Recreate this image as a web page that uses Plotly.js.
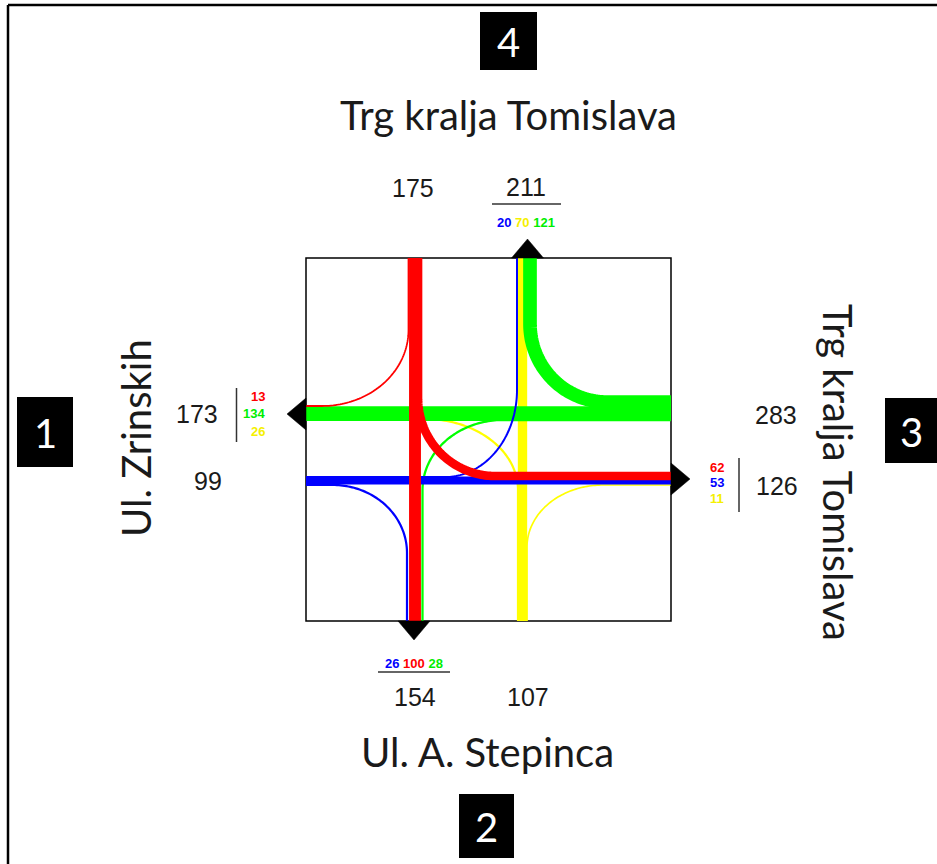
<!DOCTYPE html>
<html>
<head>
<meta charset="utf-8">
<script src="https://cdn.plot.ly/plotly-3.0.1.min.js"></script>
<style>html,body{margin:0;padding:0;background:#fff;}#chart{width:937px;height:864px;}</style>
</head>
<body>
<div id="chart"></div>
<script>
// ---------------- DATA ----------------
const approachIds = [1, 2, 3, 4];
const streetNames = ['Ul. Zrinskih', 'Ul. A. Stepinca', 'Trg kralja Tomislava', 'Trg kralja Tomislava'];
// movements: origin approach -> destination approach, vehicles
const flowFrom   = [1, 1, 1, 2, 2, 2, 3, 3, 3, 4, 4, 4];
const flowTo     = [3, 4, 2, 4, 1, 3, 1, 4, 2, 2, 1, 3];
const flowVolume = [53, 20, 26, 70, 26, 11, 134, 121, 28, 100, 13, 62];

// ---------------- STYLE / LAYOUT ----------------
const originColor = {1: '#0000FF', 2: '#FFFF00', 3: '#00FF00', 4: '#FF0000'};
const drawOrder = [2, 3, 1, 4];
const L = 306, R = 671, T = 258, B = 621;

// lane geometry of each movement (positions only)
const pathSpec = {
  '1-3': [['P', L, 480.5], ['P', R, 480.5]],
  '1-4': [['P', L, 477], ['A', 445, 390, 72, 87, 90, 0], ['P', 517, T]],
  '1-2': [['P', L, 485], ['A', 333, 553, 74, 68, -90, 0], ['P', 407, B]],
  '2-4': [['P', 522.5, B], ['P', 522.5, T]],
  '2-1': [['P', 518, B], ['A', 425, 490, 93, 71, 0, -90], ['P', L, 419]],
  '2-3': [['P', 527, B], ['A', 603, 547, 76, 62, 180, 270], ['P', R, 485]],
  '3-1': [['P', R, 413.7], ['P', L, 413.7]],
  '3-4': [['P', R, 402], ['A', 607, 324, 77, 78, 90, 180], ['P', 530, T]],
  '3-2': [['P', R, 420], ['A', 503, 490, 80.5, 70, 270, 180], ['P', 422.5, B]],
  '4-2': [['P', 415, T], ['P', 415, B]],
  '4-1': [['P', 408.5, T], ['A', 322, 330, 86.5, 76, 0, 90], ['P', L, 406]],
  '4-3': [['P', 418, T], ['A', 495, 398, 77, 78, 180, 90], ['P', R, 476]]
};
// exit arrow (tip direction) and lane order of the incoming movements at each exit
const exitGeom = {
  1: {x: L, y: 414, dir: 'left',  order: [4, 3, 2]},
  2: {x: 414, y: B, dir: 'down',  order: [1, 4, 3]},
  3: {x: R, y: 479, dir: 'right', order: [4, 1, 2]},
  4: {x: 527.5, y: T, dir: 'up',  order: [1, 2, 3]}
};

function lineWidth(v) { return v < 40 ? 1.3 + v * 0.035 : 3.4 + v * 0.085; }

function buildPath(spec) {
  const xs = [], ys = [];
  spec.forEach(s => {
    if (s[0] === 'P') { xs.push(s[1]); ys.push(s[2]); }
    else {
      const [, cx, cy, rx, ry, a0, a1] = s;
      const n = 60;
      for (let i = 0; i <= n; i++) {
        const a = (a0 + (a1 - a0) * i / n) * Math.PI / 180;
        xs.push(cx + rx * Math.cos(a));
        ys.push(cy + ry * Math.sin(a));
      }
    }
  });
  return {xs, ys};
}

const traces = [];
drawOrder.forEach(o => {
  const idx = flowFrom.map((f, i) => i).filter(i => flowFrom[i] === o)
    .sort((a, b) => flowVolume[a] - flowVolume[b]);
  idx.forEach(i => {
    const p = buildPath(pathSpec[flowFrom[i] + '-' + flowTo[i]]);
    traces.push({
      type: 'scatter', mode: 'lines', x: p.xs, y: p.ys,
      line: {color: originColor[o], width: lineWidth(flowVolume[i]), simplify: false},
      hoverinfo: 'skip', showlegend: false
    });
  });
});

// exit arrows
const AH = 16, AL = 19;
approachIds.forEach(a => {
  const e = exitGeom[a];
  let xs, ys;
  if (e.dir === 'left')  { xs = [e.x, e.x, e.x - AL, e.x]; ys = [e.y - AH, e.y + AH, e.y, e.y - AH]; }
  if (e.dir === 'right') { xs = [e.x, e.x, e.x + AL, e.x]; ys = [e.y - AH, e.y + AH, e.y, e.y - AH]; }
  if (e.dir === 'up')    { xs = [e.x - AH, e.x + AH, e.x, e.x - AH]; ys = [e.y, e.y, e.y - AL, e.y]; }
  if (e.dir === 'down')  { xs = [e.x - AH, e.x + AH, e.x, e.x - AH]; ys = [e.y, e.y, e.y + AL, e.y]; }
  traces.push({type: 'scatter', mode: 'lines', x: xs, y: ys, fill: 'toself',
    fillcolor: '#000', line: {color: '#000', width: 0.5}, hoverinfo: 'skip', showlegend: false});
});

// totals from flows
const inbound = {}, outbound = {};
approachIds.forEach(a => { inbound[a] = 0; outbound[a] = 0; });
flowVolume.forEach((v, i) => { inbound[flowFrom[i]] += v; outbound[flowTo[i]] += v; });
function vol(from, to) {
  for (let i = 0; i < flowVolume.length; i++) if (flowFrom[i] === from && flowTo[i] === to) return flowVolume[i];
  return 0;
}
const smallColor = {1: '#0000FF', 2: '#F5F000', 3: '#00EE00', 4: '#FF0000'};

const NUMF = {family: 'Liberation Sans, Arial, sans-serif', size: 25, color: '#1a1a1a'};
const SMF = {family: 'Liberation Sans, Arial, sans-serif', size: 13, color: '#000'};
const STF = {family: 'Lato, sans-serif', size: 40, color: '#1a1a1a'};
const BOXF = {family: 'Lato, sans-serif', size: 40, color: '#fff'};

const ann = [];
function txt(x, y, text, font, extra) {
  ann.push(Object.assign({x, y, xref: 'x', yref: 'y', text, font, showarrow: false,
    xanchor: 'center', yanchor: 'middle'}, extra || {}));
}
function colored(o, d) { return `<span style="color:${smallColor[o]}"><b>${vol(o, d)}</b></span>`; }
// approach 4 (north)
txt(413, 188, String(inbound[4]), NUMF);
txt(526, 187, String(outbound[4]), NUMF);
txt(526, 222, exitGeom[4].order.map(o => colored(o, 4)).join(' '), SMF);
// approach 1 (west)
txt(197, 414, String(outbound[1]), NUMF);
txt(208, 481, String(inbound[1]), NUMF);
exitGeom[1].order.forEach((o, k) => txt(267, 396 + k * 17.5, colored(o, 1), SMF, {xanchor: 'right'}));
// approach 3 (east)
txt(776, 415, String(inbound[3]), NUMF);
txt(777, 486, String(outbound[3]), NUMF);
exitGeom[3].order.forEach((o, k) => txt(717, 467 + k * 15.5, colored(o, 3), SMF));
// approach 2 (south)
txt(414, 663, exitGeom[2].order.map(o => colored(o, 2)).join(' '), SMF);
txt(415, 697, String(outbound[2]), NUMF);
txt(528, 697, String(inbound[2]), NUMF);

// street names
txt(508, 115, streetNames[3], STF);
txt(487, 752, streetNames[1], STF);
txt(136, 438, streetNames[0], STF, {textangle: -90});
txt(838, 472, streetNames[2], STF, {textangle: 90});

// approach number boxes
const boxPos = {1: [17, 73, 397, 467], 2: [459, 514, 794, 858], 3: [885, 937, 398, 463], 4: [480, 537, 12, 70]};
const shapes = [];
approachIds.forEach(a => {
  const b = boxPos[a];
  shapes.push({type: 'rect', xref: 'x', yref: 'y', x0: b[0], x1: b[1], y0: b[2], y1: b[3],
    fillcolor: '#000', line: {width: 0}});
  txt((b[0] + b[1]) / 2, (b[2] + b[3]) / 2 + 1, String(a), BOXF);
});
// intersection frame
shapes.push({type: 'rect', xref: 'x', yref: 'y', x0: L, x1: R, y0: T, y1: B, line: {color: '#000', width: 1.5}, layer: 'below'});
// outer frame
shapes.push({type: 'line', xref: 'x', yref: 'y', x0: 8, x1: 8, y0: 5, y1: 864, line: {color: '#000', width: 2.5}});
shapes.push({type: 'line', xref: 'x', yref: 'y', x0: 8, x1: 937, y0: 5, y1: 5, line: {color: '#000', width: 2.5}});
// fraction lines / separators
shapes.push({type: 'line', xref: 'x', yref: 'y', x0: 492, x1: 561, y0: 204, y1: 204, line: {color: '#333', width: 1.5}});
shapes.push({type: 'line', xref: 'x', yref: 'y', x0: 378, x1: 450, y0: 672, y1: 672, line: {color: '#333', width: 1.5}});
shapes.push({type: 'line', xref: 'x', yref: 'y', x0: 236.5, x1: 236.5, y0: 388, y1: 442, line: {color: '#333', width: 1.5}});
shapes.push({type: 'line', xref: 'x', yref: 'y', x0: 739, x1: 739, y0: 458, y1: 512, line: {color: '#333', width: 1.5}});

const layout = {
  width: 937, height: 864,
  margin: {l: 0, r: 0, t: 0, b: 0, pad: 0},
  paper_bgcolor: '#fff', plot_bgcolor: '#fff',
  xaxis: {range: [0, 937], visible: false, fixedrange: true},
  yaxis: {range: [864, 0], visible: false, fixedrange: true},
  showlegend: false,
  annotations: ann,
  shapes: shapes
};
Plotly.newPlot('chart', traces, layout, {staticPlot: true, displayModeBar: false});
</script>
</body>
</html>
